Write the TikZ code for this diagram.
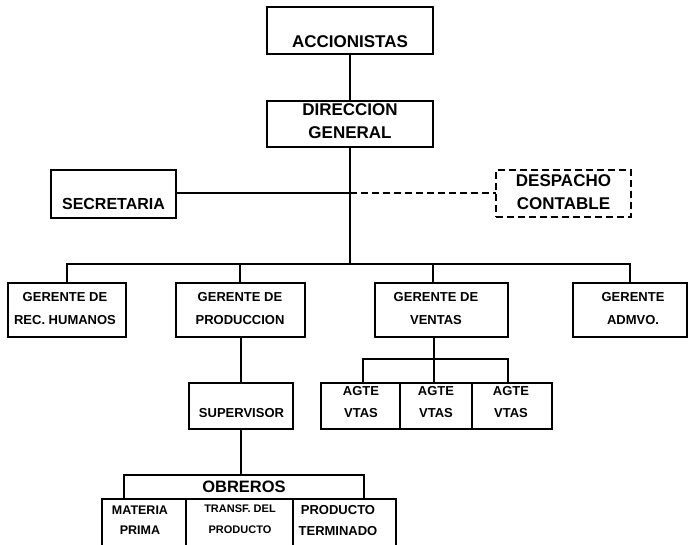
\documentclass[tikz,border=0pt]{standalone}
\usepackage{fontspec}
\setmainfont{Liberation Sans}
\begin{document}
\begin{tikzpicture}[x=1pt,y=-1pt,
  line width=1.3pt,
  box/.style={draw, line width=1.3pt, inner sep=0pt, outer sep=0pt},
  dbox/.style={box, dash pattern=on 7pt off 4pt},
  txt/.style={inner sep=0pt, align=center},
  big/.style={txt, font=\fontsize{17}{23}\selectfont\bfseries},
  small/.style={txt, font=\fontsize{13}{23}\selectfont\bfseries},
]
\useasboundingbox (0,0) rectangle (696,544);
% boxes
\node[box, minimum width=166pt, minimum height=47pt] (acc) at (350,30.5) {};
\node[box, minimum width=166pt, minimum height=46pt] (dir) at (350,124) {};
\node[box, minimum width=125pt, minimum height=48pt] (sec) at (113.5,194) {};
\node[dbox, minimum width=135pt, minimum height=47pt] (desp) at (563.5,193.5) {};
\node[box, minimum width=118pt, minimum height=54pt] (rec) at (67,310) {};
\node[box, minimum width=129pt, minimum height=54pt] (prod) at (240.5,310) {};
\node[box, minimum width=133pt, minimum height=54pt] (vent) at (441.5,310) {};
\node[box, minimum width=114pt, minimum height=54pt] (adm) at (630,310) {};
\node[box, minimum width=104pt, minimum height=46pt] (sup) at (241,406) {};
\node[box, minimum width=79pt, minimum height=46pt] (a1) at (360.5,406) {};
\node[box, minimum width=72pt, minimum height=46pt] (a2) at (436,406) {};
\node[box, minimum width=80pt, minimum height=46pt] (a3) at (512,406) {};
\node[box, minimum width=240pt, minimum height=24pt] (obr) at (244,487) {};
\node[box, minimum width=84pt, minimum height=51pt] (b1) at (144,524.5) {};
\node[box, minimum width=107pt, minimum height=51pt] (b2) at (239.5,524.5) {};
\node[box, minimum width=103pt, minimum height=51pt] (b3) at (344.5,524.5) {};
% texts
\node[big] (accT) at (350,42) {ACCIONISTAS};
\node[big] (dirT) at (350,121.5) {DIRECCION\\GENERAL};
\node[txt, font=\fontsize{16}{23}\selectfont\bfseries] (secT) at (113.5,204) {SECRETARIA};
\node[big] (despT) at (563.5,192.5) {DESPACHO\\CONTABLE};
\node[small] (recT) at (65,308.5) {GERENTE DE\\REC. HUMANOS};
\node[small] (prodT) at (240,308.5) {GERENTE DE\\PRODUCCION};
\node[small] (ventT) at (436,308.5) {GERENTE DE\\VENTAS};
\node[small] (admT) at (633,308.5) {GERENTE\\ADMVO.};
\node[small] (supT) at (241.5,413) {SUPERVISOR};
\node[txt, font=\fontsize{13}{22}\selectfont\bfseries] (a1T) at (361,402) {AGTE\\VTAS};
\node[txt, font=\fontsize{13}{22}\selectfont\bfseries] (a2T) at (436,402) {AGTE\\VTAS};
\node[txt, font=\fontsize{13}{22}\selectfont\bfseries] (a3T) at (511,402) {AGTE\\VTAS};
\node[txt, font=\fontsize{16.5}{20}\selectfont\bfseries] (obrT) at (244,487) {OBREROS};
\node[txt, font=\fontsize{12.5}{20}\selectfont\bfseries] (b1T) at (140,520) {MATERIA\\PRIMA};
\node[txt, font=\fontsize{11}{21}\selectfont\bfseries] (b2T) at (240,519) {TRANSF. DEL\\PRODUCTO};
\node[txt, font=\fontsize{13}{20.5}\selectfont\bfseries] (b3T) at (338,520.5) {PRODUCTO\\TERMINADO};
% connectors
\coordinate (hub) at (350,193);
\coordinate (bar) at (350,264);
\coordinate (barL) at (67,264);
\coordinate (barP) at (240,264);
\coordinate (barV) at (433,264);
\coordinate (barR) at (630,264);
\coordinate (vdrop) at (434,359);
\coordinate (agL) at (363,359);
\coordinate (agR) at (508,359);
\draw (acc.south) -- (dir.north);
\draw (dir.south) -- (bar);
\draw (sec.east |- hub) -- (hub);
\draw[dash pattern=on 7pt off 4pt] (hub) -- (desp.west |- hub);
\draw (barL |- rec.north) -- (barL) -- (barR) -- (barR |- adm.north);
\draw (barP) -- (barP |- prod.north);
\draw (barV) -- (barV |- vent.north);
\draw (prod.south -| sup.north) -- (sup.north);
\draw (sup.south) -- (sup.south |- obr.north);
\draw (vdrop |- vent.south) -- (vdrop);
\draw (agL |- a1.north) -- (agL) -- (agR) -- (agR |- a3.north);
\draw (vdrop) -- (vdrop |- a2.north);
\end{tikzpicture}
\end{document}
